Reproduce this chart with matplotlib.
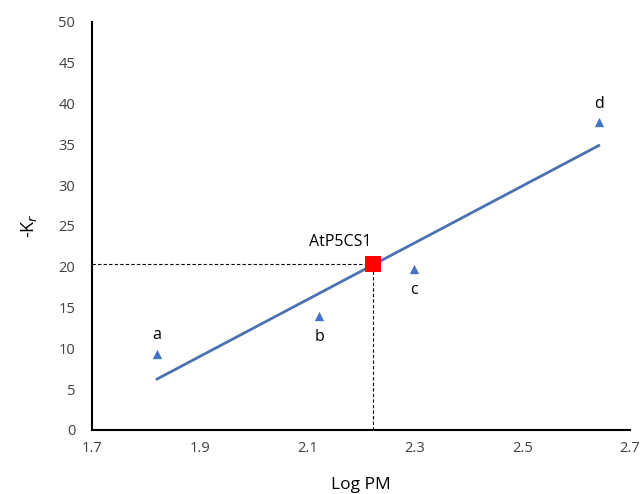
import numpy as np
import matplotlib
matplotlib.use("Agg")
import matplotlib.pyplot as plt

# Standard curve data: log PM vs -Kr
labels = ["a", "b", "c", "d"]
log_pm = [1.821, 2.122, 2.298, 2.642]
neg_kr = [9.3, 14.0, 19.7, 37.7]

# Unknown sample placed on the curve
sample_name = "AtP5CS1"
sample_x = 2.222
sample_y = 20.3

x_ticks = [1.7, 1.9, 2.1, 2.3, 2.5, 2.7]
y_ticks = [0, 5, 10, 15, 20, 25, 30, 35, 40, 45, 50]

plt.rcParams["font.family"] = ["Open Sans", "DejaVu Sans"]

fig = plt.figure(figsize=(6.42, 4.94), dpi=100)
ax = fig.add_axes([0.1433, 0.1296, 0.9813 - 0.1433, 0.9555 - 0.1296])

blue = "#4472C4"

# Linear trend line across the standards
slope, intercept = np.polyfit(log_pm, neg_kr, 1)
xs = np.array([min(log_pm), max(log_pm)])
ax.plot(xs, slope * xs + intercept, color="#4A72B0", lw=2.0, zorder=2)

ax.scatter(log_pm, neg_kr, marker="^", s=45, color=blue, zorder=3, linewidths=0)
offsets = {"a": (0, 2.3), "b": (0, -2.6), "c": (0, -2.6), "d": (0, 2.3)}
for lab, x, y in zip(labels, log_pm, neg_kr):
    dx, dy = offsets[lab]
    ax.text(x + dx, y + dy, lab, ha="center", va="center", fontsize=11.5, color="black")

# Reference lines to the sample
ax.plot([1.7, sample_x], [sample_y, sample_y], ls=(0, (3, 2)), color="black", lw=0.8, zorder=1)
ax.plot([sample_x, sample_x], [0, sample_y], ls=(0, (3, 2)), color="black", lw=0.8, zorder=1)
ax.scatter([sample_x], [sample_y], marker="s", s=120, color="#FF0000", zorder=4, linewidths=0)
ax.text(sample_x - 0.06, sample_y + 2.7, sample_name, ha="center", va="center", fontsize=11.5, color="black")

ax.set_xlim(1.7, 2.7)
ax.set_ylim(0, 50)
ax.set_xticks(x_ticks)
ax.set_xticklabels([f"{v:.1f}" for v in x_ticks])
ax.set_yticks(y_ticks)
ax.tick_params(length=0, labelsize=10.5, labelcolor="#404040", pad=8)
ax.tick_params(axis="y", pad=12)

for side in ["top", "right"]:
    ax.spines[side].set_visible(False)
for side in ["left", "bottom"]:
    ax.spines[side].set_linewidth(1.5)
    ax.spines[side].set_color("black")

ax.set_xlabel("Log PM", fontsize=12.5, labelpad=15)
ax.set_ylabel("-K$_r$", fontsize=13, labelpad=14)

fig.savefig("out.png", dpi=100)
